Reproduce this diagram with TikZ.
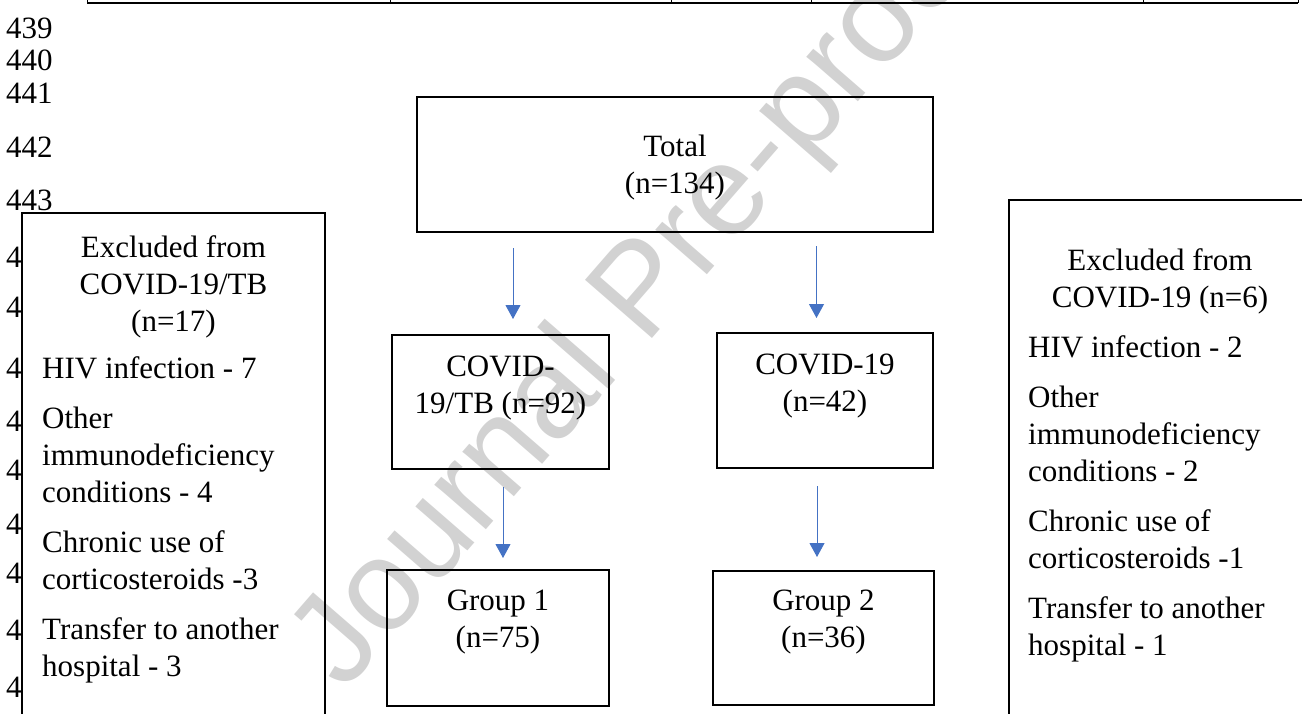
\documentclass[tikz,border=0pt]{standalone}
\usepackage{fontspec}
\setmainfont{Liberation Serif}
\newfontfamily\wmfont{Liberation Sans}
\usetikzlibrary{arrows.meta,positioning}
\definecolor{arrowblue}{RGB}{68,114,196}
\definecolor{wmgray}{RGB}{210,210,210}

\begin{document}
\begin{tikzpicture}[
  x=1pt,
  y=-1pt,
  node distance=237.5pt
]

  \tikzstyle{flowbox}=[draw,rectangle,line width=2pt,inner sep=0pt]
  \tikzstyle{exclbox}=[draw,rectangle,line width=2pt,inner sep=0pt,minimum width=303pt,minimum height=520pt]
  \tikzstyle{boxtext}=[align=center,inner sep=0pt,font=\fontsize{31}{37}\selectfont]
  \tikzstyle{listtext}=[align=left,inner sep=0pt,font=\fontsize{31}{37}\selectfont]
  \tikzstyle{linenum}=[anchor=west,inner sep=0pt,font=\fontsize{31}{37}\selectfont]
  \tikzstyle{flowarrow}=[draw=arrowblue,line width=1pt,-{Triangle[length=14pt,width=15pt]}]
  \tikzstyle{watermark}=[text=wmgray,font=\wmfont\fontsize{129}{129}\selectfont,rotate=49]

  \clip (0,0) rectangle (1302,713);

  % rule of the table above
  \draw[line width=2.5pt] (87,3) -- (1298,3);
  \foreach \xpos in {87,390,671,811,1143,1298}
    \draw[line width=1pt] (\xpos,0) -- (\xpos,3);

  % line numbers
  \foreach \num/\ypos in {439/28,440/60,441/93,442/147,443/200,444/257,445/307,446/368,447/421,448/470,449/524,450/573,451/630,452/687}
    \node[linenum] (ln\num) at (6,\ypos) {\num};

  % boxes
  \node[flowbox,minimum width=516pt,minimum height=135pt] (total) at (675,164.5) {};
  \node[flowbox,minimum width=217pt,minimum height=134pt] (ctb) [below of=total,xshift=-174.5pt] {};
  \node[flowbox,minimum width=216pt,minimum height=135pt] (covid) [below of=total,xshift=150pt,yshift=1.5pt] {};
  \node[flowbox,minimum width=222pt,minimum height=136pt,node distance=236pt] (group1) [below of=ctb,xshift=-2.5pt] {};
  \node[flowbox,minimum width=221pt,minimum height=134pt] (group2) [below of=covid,xshift=-1.5pt] {};

  \node[exclbox,fill=white] (excltb) at (173.5,473) {};
  \node[exclbox,minimum width=302pt,minimum height=533pt] (exclc) at (1160,466.5) {};

  % texts
  \node[boxtext,below=39pt of total.north] (totaltext) {Total\\(n=134)};
  \node[boxtext,below=21.5pt of ctb.north] (ctbtext) {COVID-\\19/TB (n=92)};
  \node[boxtext,below=21.5pt of covid.north] (covidtext) {COVID-19\\(n=42)};
  \node[boxtext,below=21pt of group1.north] (group1text) {Group 1\\(n=75)};
  \node[boxtext,below=20pt of group2.north] (group2text) {Group 2\\(n=36)};

  \node[boxtext,below=23pt of excltb.north] (excltbhead) {Excluded from\\COVID-19/TB\\(n=17)};
  \node[listtext,below right=144pt and 21pt of excltb.north west] (excltblist)
    {HIV infection - 7\\[13pt]Other\\immunodeficiency\\conditions - 4\\[13pt]Chronic use of\\corticosteroids -3\\[13pt]Transfer to another\\hospital - 3};

  \node[boxtext,below=49pt of exclc.north] (exclchead) {Excluded from\\COVID-19 (n=6)};
  \node[listtext,below right=136pt and 20pt of exclc.north west] (exclclist)
    {HIV infection - 2\\[13pt]Other\\immunodeficiency\\conditions - 2\\[13pt]Chronic use of\\corticosteroids -1\\[13pt]Transfer to another\\hospital - 1};

  % arrows
  \draw[flowarrow,shorten <=15pt,shorten >=15pt] ([xshift=12.5pt]ctb.north |- total.south) -- ([xshift=12.5pt]ctb.north);
  \draw[flowarrow,shorten <=13pt,shorten >=14pt] ([xshift=-8.5pt]covid.north |- total.south) -- ([xshift=-8.5pt]covid.north);
  \draw[flowarrow,shorten <=17pt,shorten >=11pt] ([xshift=5pt]group1.north |- ctb.south) -- ([xshift=5pt]group1.north);
  \draw[flowarrow,shorten <=17pt,shorten >=13pt] ([xshift=-6.5pt]group2.north |- covid.south) -- ([xshift=-6.5pt]group2.north);

  % watermark
  \begin{scope}[blend mode=multiply]
    \node[watermark] (wm) at (646,295) {Journal Pre-proof};
  \end{scope}

\end{tikzpicture}
\end{document}
